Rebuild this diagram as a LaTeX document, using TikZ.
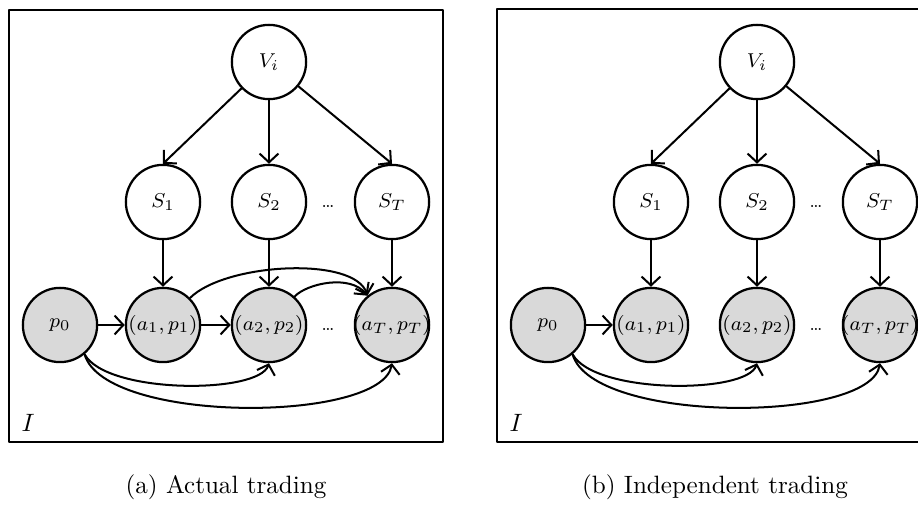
\documentclass[tikz,border=0pt]{standalone}
\usetikzlibrary{arrows.meta}
\definecolor{obsgray}{RGB}{217,217,217}
\tikzset{
  rv/.style={circle, draw, line width=0.9pt, minimum size=1.04cm, inner sep=-2pt, font=\footnotesize},
  obs/.style={rv, fill=obsgray},
  edge/.style={->, line width=0.8pt},
  frame/.style={draw, line width=1.1pt},
}
\begin{document}
\begin{tikzpicture}[x=0.014cm, y=-0.014cm, >={Straight Barb[length=3.5pt,width=7.5pt]}, line join=round, line cap=round]
	\useasboundingbox (0,0) rectangle (918,505);
	% (a) actual trading
	\draw[frame] (9,10) rectangle (443,442);
	\node[rv] (V) at (269,62) {$V_i$};
	\node[rv] (S1) at (163,202) {$S_1$};
	\node[rv] (S2) at (269,202) {$S_2$};
	\node[rv] (ST) at (392,202) {$S_T$};
	\node[obs] (p0) at (60,325) {$p_0$};
	\node[obs] (A1) at (163,325) {$(a_1,p_1)$};
	\node[obs] (A2) at (269,325) {$(a_2,p_2)$};
	\node[obs] (AT) at (392,325) {$(a_T,p_T)$};
	\node[font=\scriptsize] (dS) at (328,206) {\dots};
	\node[font=\scriptsize] (dA) at (328,329) {\dots};
	\node (I) at (28,423) {$I$};
	\draw[edge] (V) -- (S1.north);
	\draw[edge] (V) -- (S2);
	\draw[edge] (V) -- (ST.north);
	\draw[edge] (S1) -- (A1);
	\draw[edge] (S2) -- (A2);
	\draw[edge] (ST) -- (AT);
	\draw[edge] (p0) -- (A1);
	\draw[edge] (A1) -- (A2);
	\draw[edge] (A1.45) .. controls +(35,-35) and +(-12,-40) .. (AT.130);
	\draw[edge] (A2.48) .. controls +(12,-13) and +(-17,-22) .. (AT.130);
	\draw[edge] (p0.-50) .. controls +(22,40) and +(-10,31) .. (A2.south);
	\draw[edge] (p0.-50) .. controls +(20,70) and +(-10,60) .. (AT.south);
	\node[anchor=base] (capa) at (226,494) {(a) Actual trading};
	% (b) independent trading
	\begin{scope}[shift={(488,0)}]
		\draw[frame] (9,9) rectangle (443,442);
		\node[rv] (bV) at (269,62) {$V_i$};
		\node[rv] (bS1) at (163,202) {$S_1$};
		\node[rv] (bS2) at (269,202) {$S_2$};
		\node[rv] (bST) at (392,202) {$S_T$};
		\node[obs] (bp0) at (60,325) {$p_0$};
		\node[obs] (bA1) at (163,325) {$(a_1,p_1)$};
		\node[obs] (bA2) at (269,325) {$(a_2,p_2)$};
		\node[obs] (bAT) at (392,325) {$(a_T,p_T)$};
		\node[font=\scriptsize] (bdS) at (328,206) {\dots};
		\node[font=\scriptsize] (bdA) at (328,329) {\dots};
		\node (bI) at (28,423) {$I$};
		\draw[edge] (bV) -- (bS1.north);
		\draw[edge] (bV) -- (bS2);
		\draw[edge] (bV) -- (bST.north);
		\draw[edge] (bS1) -- (bA1);
		\draw[edge] (bS2) -- (bA2);
		\draw[edge] (bST) -- (bAT);
		\draw[edge] (bp0) -- (bA1);
		\draw[edge] (bp0.-50) .. controls +(22,40) and +(-10,31) .. (bA2.south);
		\draw[edge] (bp0.-50) .. controls +(20,70) and +(-10,60) .. (bAT.south);
		\node[anchor=base] (capb) at (227,494) {(b) Independent trading};
	\end{scope}
\end{tikzpicture}
\end{document}
